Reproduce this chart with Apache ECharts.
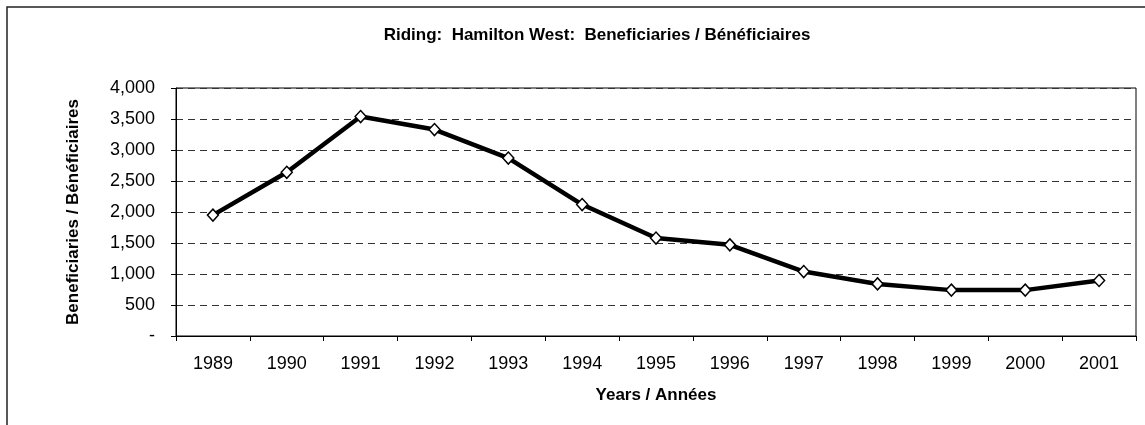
<!DOCTYPE html>
<html>
<head>
<meta charset="utf-8">
<script src="https://cdn.jsdelivr.net/npm/echarts@6/dist/echarts.min.js"></script>
<style>
html,body{margin:0;padding:0;background:#fff;}
#chart{width:1145px;height:425px;}
</style>
</head>
<body>
<div id="chart"></div>
<script>
const titleText = 'Riding:  Hamilton West:  Beneficiaries / Bénéficiaires';
const xAxisTitle = 'Years / Années';
const yAxisTitle = 'Beneficiaries / Bénéficiaires';
const years = ['1989','1990','1991','1992','1993','1994','1995','1996','1997','1998','1999','2000','2001'];
const beneficiaries = [1950, 2640, 3540, 3330, 2870, 2120, 1580, 1470, 1040, 840, 740, 740, 895];
const yTicks = [0, 500, 1000, 1500, 2000, 2500, 3000, 3500, 4000];

const FONT = "'Liberation Sans', Arial, sans-serif";
const chart = echarts.init(document.getElementById('chart'), null, {renderer: 'canvas'});
chart.setOption({
  animation: false,
  backgroundColor: '#ffffff',
  graphic: [{
    type: 'rect',
    shape: {x: 7, y: 7, width: 1300, height: 600},
    style: {fill: 'none', stroke: '#222', lineWidth: 1.5},
    silent: true
  }],
  title: {
    text: titleText,
    left: 592,
    top: 22,
    textAlign: 'center',
    textStyle: {fontFamily: FONT, fontWeight: 'bold', fontSize: 17, color: '#000'}
  },
  grid: {
    left: 176, right: 9, top: 88, bottom: 89,
    show: true, borderColor: '#000', borderWidth: 1, backgroundColor: 'transparent'
  },
  xAxis: {
    type: 'category',
    data: years,
    boundaryGap: true,
    name: xAxisTitle,
    nameLocation: 'middle',
    nameGap: 51,
    nameTextStyle: {fontFamily: FONT, fontWeight: 'bold', fontSize: 17, color: '#000'},
    axisLine: {lineStyle: {color: '#000', width: 1}},
    axisTick: {show: true, length: 5, lineStyle: {color: '#000'}},
    axisLabel: {fontFamily: FONT, fontSize: 18, color: '#000', margin: 19},
    splitLine: {show: false}
  },
  yAxis: {
    type: 'value',
    min: yTicks[0],
    max: yTicks[yTicks.length - 1],
    interval: yTicks[1] - yTicks[0],
    name: yAxisTitle,
    nameLocation: 'middle',
    nameGap: 94,
    nameRotate: 90,
    nameTextStyle: {fontFamily: FONT, fontWeight: 'bold', fontSize: 17, color: '#000'},
    axisLine: {show: true, lineStyle: {color: '#000', width: 1}},
    axisTick: {show: true, length: 5, lineStyle: {color: '#000'}},
    axisLabel: {
      fontFamily: FONT, fontSize: 18, color: '#000', margin: 21,
      formatter: v => v === 0 ? '-' : v.toLocaleString('en-US')
    },
    splitLine: {show: true, lineStyle: {color: '#333', type: [7, 5], width: 1}}
  },
  series: [{
    type: 'line',
    data: beneficiaries,
    symbol: 'diamond',
    symbolSize: [11, 12],
    showAllSymbol: true,
    lineStyle: {color: '#000', width: 4.5},
    itemStyle: {color: '#fff', borderColor: '#000', borderWidth: 1.5},
    z: 3
  }]
});
</script>
</body>
</html>
